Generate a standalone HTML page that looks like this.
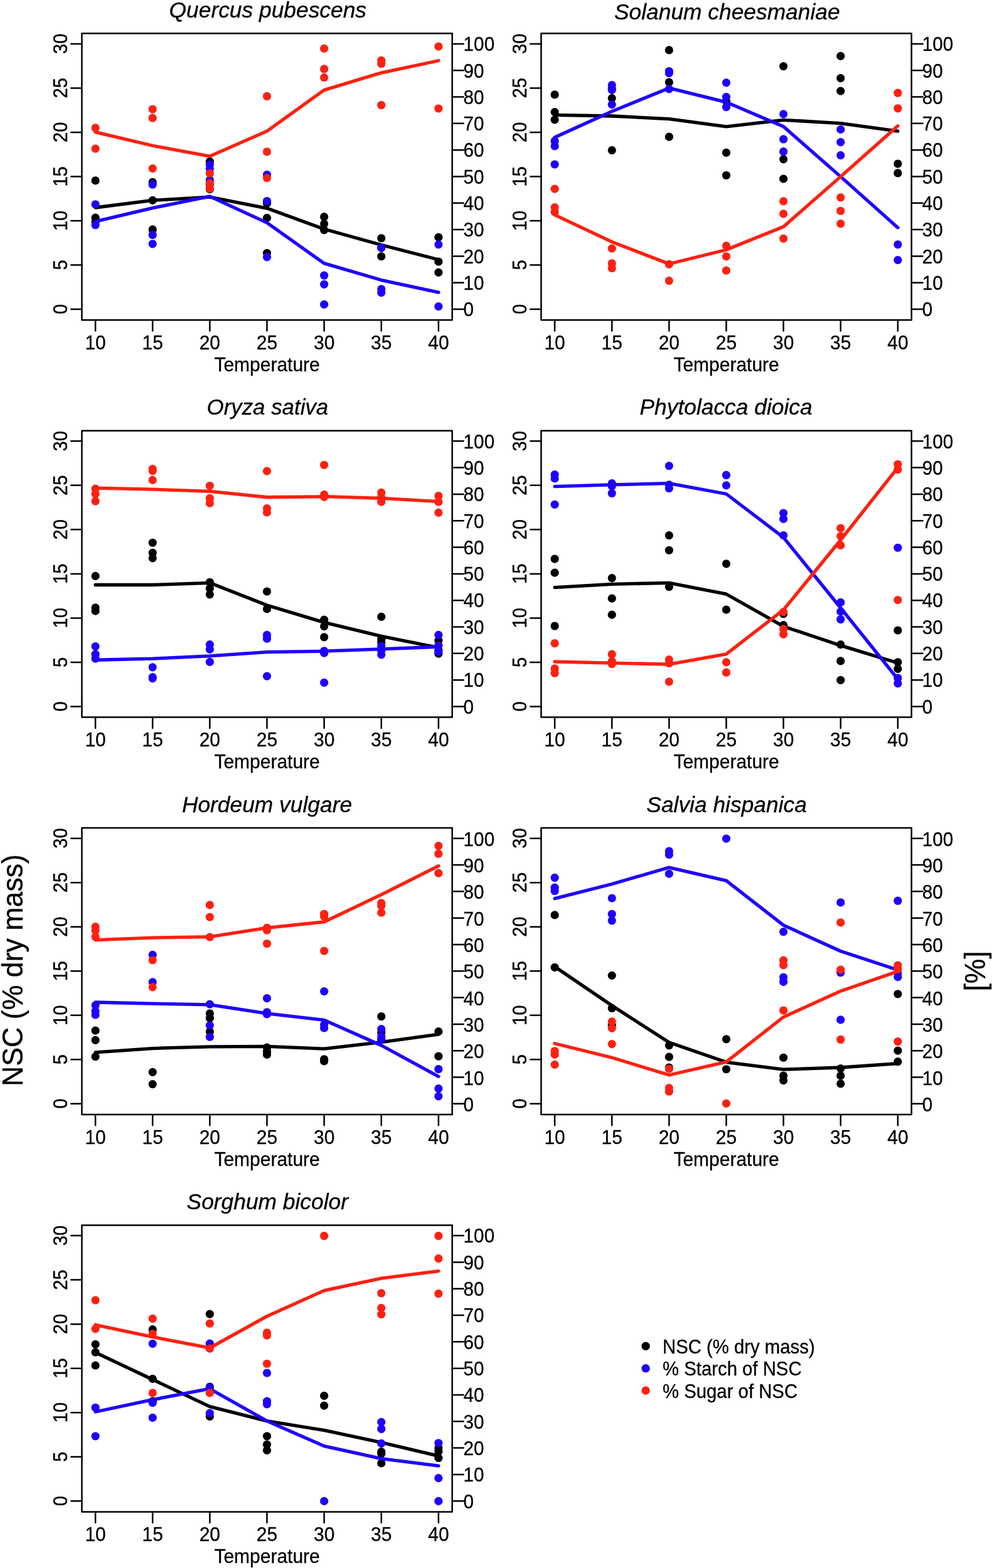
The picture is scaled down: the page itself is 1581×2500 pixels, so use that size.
<!DOCTYPE html>
<html lang="en"><head><meta charset="utf-8"><title>NSC, starch and sugar versus temperature</title>
<style>
html,body{margin:0;padding:0;background:#fff}
body{width:1581px;height:2500px;overflow:hidden}
svg{display:block;font-family:"Liberation Sans",sans-serif;fill:#000}
text{stroke:#000;stroke-width:0.3px;stroke-linejoin:round}
.r{stroke-width:0.4px}
.ttl{font-size:34px;font-style:italic;text-anchor:middle}
.tl{font-size:30px}
.m{text-anchor:middle}
.xl{font-size:30px;text-anchor:middle}
.big{font-size:46px;text-anchor:middle}
.lg{font-size:30px}
.bx{fill:none;stroke:#000;stroke-width:2.5;stroke-linejoin:round}
.tk{fill:none;stroke:#000;stroke-width:2.5;stroke-linecap:round}
.ln{fill:none;stroke-width:5.3;stroke-linecap:round;stroke-linejoin:round}
</style></head><body>
<svg width="1581" height="2500" viewBox="0 0 1581 2500" role="img" aria-label="NSC, starch and sugar fractions versus temperature for seven species">
<rect x="0" y="0" width="1581" height="2500" fill="#fff" stroke="none"/>
<g class="panel">
<text class="ttl" transform="translate(426.78 27.5) scale(1.04 1.045)">Quercus pubescens</text>
<g fill="#000">
<circle cx="152.1" cy="287.93" r="6.6"/>
<circle cx="152.1" cy="347.18" r="6.6"/>
<circle cx="152.1" cy="354.12" r="6.6"/>
<circle cx="243.23" cy="290.45" r="6.6"/>
<circle cx="243.23" cy="319.45" r="6.6"/>
<circle cx="243.23" cy="365.88" r="6.6"/>
<circle cx="334.36" cy="257.47" r="6.6"/>
<circle cx="334.36" cy="294.24" r="6.6"/>
<circle cx="334.36" cy="301.59" r="6.6"/>
<circle cx="425.49" cy="324.07" r="6.6"/>
<circle cx="425.49" cy="347.39" r="6.6"/>
<circle cx="425.49" cy="403.49" r="6.6"/>
<circle cx="516.62" cy="345.71" r="6.6"/>
<circle cx="516.62" cy="356.85" r="6.6"/>
<circle cx="516.62" cy="366.72" r="6.6"/>
<circle cx="607.75" cy="379.75" r="6.6"/>
<circle cx="607.75" cy="395.09" r="6.6"/>
<circle cx="607.75" cy="408.75" r="6.6"/>
<circle cx="698.88" cy="378.28" r="6.6"/>
<circle cx="698.88" cy="417.15" r="6.6"/>
<circle cx="698.88" cy="434.38" r="6.6"/>
</g>
<polyline class="ln" stroke="#000" points="152.1,331 243.23,319.45 334.36,314.2 425.49,332.06 516.62,365.25 607.75,390.47 698.88,414"/>
<g fill="#1e00ff">
<circle cx="152.1" cy="325.75" r="6.6"/>
<circle cx="152.1" cy="358.74" r="6.6"/>
<circle cx="243.23" cy="294.24" r="6.6"/>
<circle cx="243.23" cy="374.5" r="6.6"/>
<circle cx="243.23" cy="388.79" r="6.6"/>
<circle cx="334.36" cy="262.3" r="6.6"/>
<circle cx="334.36" cy="269.02" r="6.6"/>
<circle cx="334.36" cy="286.88" r="6.6"/>
<circle cx="425.49" cy="278.48" r="6.6"/>
<circle cx="425.49" cy="320.5" r="6.6"/>
<circle cx="425.49" cy="409.8" r="6.6"/>
<circle cx="516.62" cy="439.21" r="6.6"/>
<circle cx="516.62" cy="453.29" r="6.6"/>
<circle cx="516.62" cy="485.44" r="6.6"/>
<circle cx="607.75" cy="395.09" r="6.6"/>
<circle cx="607.75" cy="460.85" r="6.6"/>
<circle cx="607.75" cy="466.53" r="6.6"/>
<circle cx="698.88" cy="389.84" r="6.6"/>
<circle cx="698.88" cy="488.59" r="6.6"/>
</g>
<polyline class="ln" stroke="#1e00ff" points="152.1,353.07 243.23,331.63 334.36,313.15 425.49,355.17 516.62,419.88 607.75,446.57 698.88,466.11"/>
<g fill="#ff2010">
<circle cx="152.1" cy="203.89" r="6.6"/>
<circle cx="152.1" cy="237.08" r="6.6"/>
<circle cx="243.23" cy="174.05" r="6.6"/>
<circle cx="243.23" cy="188.13" r="6.6"/>
<circle cx="243.23" cy="268.6" r="6.6"/>
<circle cx="334.36" cy="276.38" r="6.6"/>
<circle cx="334.36" cy="292.13" r="6.6"/>
<circle cx="334.36" cy="300.54" r="6.6"/>
<circle cx="425.49" cy="153.46" r="6.6"/>
<circle cx="425.49" cy="241.92" r="6.6"/>
<circle cx="425.49" cy="283.73" r="6.6"/>
<circle cx="516.62" cy="77.4" r="6.6"/>
<circle cx="516.62" cy="109.97" r="6.6"/>
<circle cx="516.62" cy="123.62" r="6.6"/>
<circle cx="607.75" cy="96.31" r="6.6"/>
<circle cx="607.75" cy="101.56" r="6.6"/>
<circle cx="607.75" cy="167.54" r="6.6"/>
<circle cx="698.88" cy="74.04" r="6.6"/>
<circle cx="698.88" cy="173" r="6.6"/>
</g>
<polyline class="ln" stroke="#ff2010" points="152.1,210.61 243.23,232.25 334.36,249.06 425.49,209.14 516.62,143.59 607.75,116.06 698.88,96.73"/>
<rect class="bx" x="130.45" y="53.25" width="590.25" height="456.95"/>
<path class="tk" d="M152.1 510.2V527.55M243.23 510.2V527.55M334.36 510.2V527.55M425.49 510.2V527.55M516.62 510.2V527.55M607.75 510.2V527.55M698.88 510.2V527.55M130.45 493.05H113.3M130.45 422.53H113.3M130.45 352H113.3M130.45 281.48H113.3M130.45 210.95H113.3M130.45 140.43H113.3M130.45 69.9H113.3M720.7 493.05H738.65M720.7 450.74H738.65M720.7 408.42H738.65M720.7 366.11H738.65M720.7 323.79H738.65M720.7 281.48H738.65M720.7 239.16H738.65M720.7 196.85H738.65M720.7 154.53H738.65M720.7 112.22H738.65M720.7 69.9H738.65"/>
<text class="tl m" transform="translate(152.1 556.6) scale(1 1.03)">10</text>
<text class="tl m" transform="translate(243.23 556.6) scale(1 1.03)">15</text>
<text class="tl m" transform="translate(334.36 556.6) scale(1 1.03)">20</text>
<text class="tl m" transform="translate(425.49 556.6) scale(1 1.03)">25</text>
<text class="tl m" transform="translate(516.62 556.6) scale(1 1.03)">30</text>
<text class="tl m" transform="translate(607.75 556.6) scale(1 1.03)">35</text>
<text class="tl m" transform="translate(698.88 556.6) scale(1 1.03)">40</text>
<text class="tl m r" transform="translate(106.6 492.95) rotate(-90) scale(0.97 1.07)">0</text>
<text class="tl m r" transform="translate(106.6 422.43) rotate(-90) scale(0.97 1.07)">5</text>
<text class="tl m r" transform="translate(106.6 351.9) rotate(-90) scale(0.97 1.07)">10</text>
<text class="tl m r" transform="translate(106.6 281.38) rotate(-90) scale(0.97 1.07)">15</text>
<text class="tl m r" transform="translate(106.6 210.85) rotate(-90) scale(0.97 1.07)">20</text>
<text class="tl m r" transform="translate(106.6 140.33) rotate(-90) scale(0.97 1.07)">25</text>
<text class="tl m r" transform="translate(106.6 69.8) rotate(-90) scale(0.97 1.07)">30</text>
<text class="tl" transform="translate(738.6 504.35) scale(0.99 1.03)">0</text>
<text class="tl" transform="translate(738.6 462.04) scale(0.99 1.03)">10</text>
<text class="tl" transform="translate(738.6 419.72) scale(0.99 1.03)">20</text>
<text class="tl" transform="translate(738.6 377.41) scale(0.99 1.03)">30</text>
<text class="tl" transform="translate(738.6 335.09) scale(0.99 1.03)">40</text>
<text class="tl" transform="translate(738.6 292.78) scale(0.99 1.03)">50</text>
<text class="tl" transform="translate(738.6 250.46) scale(0.99 1.03)">60</text>
<text class="tl" transform="translate(738.6 208.15) scale(0.99 1.03)">70</text>
<text class="tl" transform="translate(738.6 165.83) scale(0.99 1.03)">80</text>
<text class="tl" transform="translate(738.6 123.52) scale(0.99 1.03)">90</text>
<text class="tl" transform="translate(738.6 81.2) scale(0.99 1.03)">100</text>
<text class="xl" transform="translate(425.58 592.1) scale(1 1.05)">Temperature</text>
</g>
<g class="panel">
<text class="ttl" transform="translate(1158.78 30.7) scale(1.04 1.045)">Solanum cheesmaniae</text>
<g fill="#000">
<circle cx="884.1" cy="150.94" r="6.6"/>
<circle cx="884.1" cy="178.67" r="6.6"/>
<circle cx="884.1" cy="190.86" r="6.6"/>
<circle cx="975.23" cy="140.85" r="6.6"/>
<circle cx="975.23" cy="156.61" r="6.6"/>
<circle cx="975.23" cy="239.61" r="6.6"/>
<circle cx="1066.36" cy="79.92" r="6.6"/>
<circle cx="1066.36" cy="130.98" r="6.6"/>
<circle cx="1066.36" cy="218.17" r="6.6"/>
<circle cx="1157.49" cy="161.44" r="6.6"/>
<circle cx="1157.49" cy="243.39" r="6.6"/>
<circle cx="1157.49" cy="279.53" r="6.6"/>
<circle cx="1248.62" cy="105.55" r="6.6"/>
<circle cx="1248.62" cy="253.89" r="6.6"/>
<circle cx="1248.62" cy="285.2" r="6.6"/>
<circle cx="1339.75" cy="89.38" r="6.6"/>
<circle cx="1339.75" cy="124.67" r="6.6"/>
<circle cx="1339.75" cy="145.06" r="6.6"/>
<circle cx="1430.88" cy="261.04" r="6.6"/>
<circle cx="1430.88" cy="275.96" r="6.6"/>
</g>
<polyline class="ln" stroke="#000" points="884.1,183.3 975.23,184.98 1066.36,189.6 1157.49,201.79 1248.62,191.28 1339.75,196.53 1430.88,209.14"/>
<g fill="#1e00ff">
<circle cx="884.1" cy="224.9" r="6.6"/>
<circle cx="884.1" cy="232.88" r="6.6"/>
<circle cx="884.1" cy="262.09" r="6.6"/>
<circle cx="975.23" cy="135.6" r="6.6"/>
<circle cx="975.23" cy="143.37" r="6.6"/>
<circle cx="975.23" cy="166.7" r="6.6"/>
<circle cx="1066.36" cy="113.54" r="6.6"/>
<circle cx="1066.36" cy="116.69" r="6.6"/>
<circle cx="1066.36" cy="141.9" r="6.6"/>
<circle cx="1157.49" cy="131.82" r="6.6"/>
<circle cx="1157.49" cy="154.51" r="6.6"/>
<circle cx="1157.49" cy="170.69" r="6.6"/>
<circle cx="1248.62" cy="181.83" r="6.6"/>
<circle cx="1248.62" cy="221.96" r="6.6"/>
<circle cx="1248.62" cy="241.71" r="6.6"/>
<circle cx="1339.75" cy="206.41" r="6.6"/>
<circle cx="1339.75" cy="226.58" r="6.6"/>
<circle cx="1339.75" cy="247.59" r="6.6"/>
<circle cx="1430.88" cy="389.84" r="6.6"/>
<circle cx="1430.88" cy="414.63" r="6.6"/>
</g>
<polyline class="ln" stroke="#1e00ff" points="884.1,219.02 975.23,177.62 1066.36,140.43 1157.49,162.92 1248.62,201.79 1339.75,281.63 1430.88,362.94"/>
<g fill="#ff2010">
<circle cx="884.1" cy="301.17" r="6.6"/>
<circle cx="884.1" cy="330.58" r="6.6"/>
<circle cx="884.1" cy="337.94" r="6.6"/>
<circle cx="975.23" cy="396.14" r="6.6"/>
<circle cx="975.23" cy="419.88" r="6.6"/>
<circle cx="975.23" cy="427.66" r="6.6"/>
<circle cx="1066.36" cy="421.35" r="6.6"/>
<circle cx="1066.36" cy="447.62" r="6.6"/>
<circle cx="1157.49" cy="391.94" r="6.6"/>
<circle cx="1157.49" cy="408.75" r="6.6"/>
<circle cx="1157.49" cy="431.23" r="6.6"/>
<circle cx="1248.62" cy="320.92" r="6.6"/>
<circle cx="1248.62" cy="340.88" r="6.6"/>
<circle cx="1248.62" cy="380.38" r="6.6"/>
<circle cx="1339.75" cy="314.83" r="6.6"/>
<circle cx="1339.75" cy="336.26" r="6.6"/>
<circle cx="1339.75" cy="356.64" r="6.6"/>
<circle cx="1430.88" cy="148.21" r="6.6"/>
<circle cx="1430.88" cy="172.79" r="6.6"/>
</g>
<polyline class="ln" stroke="#ff2010" points="884.1,342.56 975.23,385.63 1066.36,420.72 1157.49,398.24 1248.62,361.47 1339.75,281.63 1430.88,200.74"/>
<rect class="bx" x="862.45" y="53.25" width="590.25" height="456.95"/>
<path class="tk" d="M884.1 510.2V527.55M975.23 510.2V527.55M1066.36 510.2V527.55M1157.49 510.2V527.55M1248.62 510.2V527.55M1339.75 510.2V527.55M1430.88 510.2V527.55M862.45 493.05H845.3M862.45 422.53H845.3M862.45 352H845.3M862.45 281.48H845.3M862.45 210.95H845.3M862.45 140.43H845.3M862.45 69.9H845.3M1452.7 493.05H1470.65M1452.7 450.74H1470.65M1452.7 408.42H1470.65M1452.7 366.11H1470.65M1452.7 323.79H1470.65M1452.7 281.48H1470.65M1452.7 239.16H1470.65M1452.7 196.85H1470.65M1452.7 154.53H1470.65M1452.7 112.22H1470.65M1452.7 69.9H1470.65"/>
<text class="tl m" transform="translate(884.1 556.6) scale(1 1.03)">10</text>
<text class="tl m" transform="translate(975.23 556.6) scale(1 1.03)">15</text>
<text class="tl m" transform="translate(1066.36 556.6) scale(1 1.03)">20</text>
<text class="tl m" transform="translate(1157.49 556.6) scale(1 1.03)">25</text>
<text class="tl m" transform="translate(1248.62 556.6) scale(1 1.03)">30</text>
<text class="tl m" transform="translate(1339.75 556.6) scale(1 1.03)">35</text>
<text class="tl m" transform="translate(1430.88 556.6) scale(1 1.03)">40</text>
<text class="tl m r" transform="translate(838.6 492.95) rotate(-90) scale(0.97 1.07)">0</text>
<text class="tl m r" transform="translate(838.6 422.43) rotate(-90) scale(0.97 1.07)">5</text>
<text class="tl m r" transform="translate(838.6 351.9) rotate(-90) scale(0.97 1.07)">10</text>
<text class="tl m r" transform="translate(838.6 281.38) rotate(-90) scale(0.97 1.07)">15</text>
<text class="tl m r" transform="translate(838.6 210.85) rotate(-90) scale(0.97 1.07)">20</text>
<text class="tl m r" transform="translate(838.6 140.33) rotate(-90) scale(0.97 1.07)">25</text>
<text class="tl m r" transform="translate(838.6 69.8) rotate(-90) scale(0.97 1.07)">30</text>
<text class="tl" transform="translate(1469.8 504.35) scale(0.99 1.03)">0</text>
<text class="tl" transform="translate(1469.8 462.04) scale(0.99 1.03)">10</text>
<text class="tl" transform="translate(1469.8 419.72) scale(0.99 1.03)">20</text>
<text class="tl" transform="translate(1469.8 377.41) scale(0.99 1.03)">30</text>
<text class="tl" transform="translate(1469.8 335.09) scale(0.99 1.03)">40</text>
<text class="tl" transform="translate(1469.8 292.78) scale(0.99 1.03)">50</text>
<text class="tl" transform="translate(1469.8 250.46) scale(0.99 1.03)">60</text>
<text class="tl" transform="translate(1469.8 208.15) scale(0.99 1.03)">70</text>
<text class="tl" transform="translate(1469.8 165.83) scale(0.99 1.03)">80</text>
<text class="tl" transform="translate(1469.8 123.52) scale(0.99 1.03)">90</text>
<text class="tl" transform="translate(1469.8 81.2) scale(0.99 1.03)">100</text>
<text class="xl" transform="translate(1157.58 592.1) scale(1 1.05)">Temperature</text>
</g>
<g class="panel">
<text class="ttl" transform="translate(426.38 660.9) scale(1.0254 1.045)">Oryza sativa</text>
<g fill="#000">
<circle cx="152.1" cy="918.41" r="6.6"/>
<circle cx="152.1" cy="968.84" r="6.6"/>
<circle cx="152.1" cy="974.09" r="6.6"/>
<circle cx="243.23" cy="865.25" r="6.6"/>
<circle cx="243.23" cy="881.43" r="6.6"/>
<circle cx="243.23" cy="889.84" r="6.6"/>
<circle cx="334.36" cy="928.29" r="6.6"/>
<circle cx="334.36" cy="938.16" r="6.6"/>
<circle cx="334.36" cy="947.83" r="6.6"/>
<circle cx="425.49" cy="942.99" r="6.6"/>
<circle cx="425.49" cy="970.94" r="6.6"/>
<circle cx="516.62" cy="988.17" r="6.6"/>
<circle cx="516.62" cy="998.67" r="6.6"/>
<circle cx="516.62" cy="1015.9" r="6.6"/>
<circle cx="607.75" cy="983.33" r="6.6"/>
<circle cx="607.75" cy="1019.26" r="6.6"/>
<circle cx="607.75" cy="1023.89" r="6.6"/>
<circle cx="698.88" cy="1021.15" r="6.6"/>
<circle cx="698.88" cy="1036.49" r="6.6"/>
<circle cx="698.88" cy="1042.17" r="6.6"/>
</g>
<polyline class="ln" stroke="#000" points="152.1,932.49 243.23,932.49 334.36,929.34 425.49,965.06 516.62,992.37 607.75,1014.43 698.88,1032.71"/>
<g fill="#1e00ff">
<circle cx="152.1" cy="1030.61" r="6.6"/>
<circle cx="152.1" cy="1043.22" r="6.6"/>
<circle cx="152.1" cy="1050.15" r="6.6"/>
<circle cx="243.23" cy="1063.81" r="6.6"/>
<circle cx="243.23" cy="1079.57" r="6.6"/>
<circle cx="243.23" cy="1081.67" r="6.6"/>
<circle cx="334.36" cy="1027.67" r="6.6"/>
<circle cx="334.36" cy="1035.44" r="6.6"/>
<circle cx="334.36" cy="1055.4" r="6.6"/>
<circle cx="425.49" cy="1012.33" r="6.6"/>
<circle cx="425.49" cy="1018.21" r="6.6"/>
<circle cx="425.49" cy="1078.1" r="6.6"/>
<circle cx="516.62" cy="1037.96" r="6.6"/>
<circle cx="516.62" cy="1041.12" r="6.6"/>
<circle cx="516.62" cy="1088.39" r="6.6"/>
<circle cx="607.75" cy="1030.19" r="6.6"/>
<circle cx="607.75" cy="1037.54" r="6.6"/>
<circle cx="607.75" cy="1043.85" r="6.6"/>
<circle cx="698.88" cy="1012.33" r="6.6"/>
<circle cx="698.88" cy="1029.14" r="6.6"/>
<circle cx="698.88" cy="1039.01" r="6.6"/>
</g>
<polyline class="ln" stroke="#1e00ff" points="152.1,1052.25 243.23,1050.15 334.36,1045.95 425.49,1039.64 516.62,1038.17 607.75,1034.81 698.88,1031.24"/>
<g fill="#ff2010">
<circle cx="152.1" cy="779.11" r="6.6"/>
<circle cx="152.1" cy="787.51" r="6.6"/>
<circle cx="152.1" cy="799.07" r="6.6"/>
<circle cx="243.23" cy="747.59" r="6.6"/>
<circle cx="243.23" cy="750.74" r="6.6"/>
<circle cx="243.23" cy="765.45" r="6.6"/>
<circle cx="334.36" cy="774.48" r="6.6"/>
<circle cx="334.36" cy="794.44" r="6.6"/>
<circle cx="334.36" cy="802.22" r="6.6"/>
<circle cx="425.49" cy="751.16" r="6.6"/>
<circle cx="425.49" cy="810.62" r="6.6"/>
<circle cx="425.49" cy="816.93" r="6.6"/>
<circle cx="516.62" cy="741.29" r="6.6"/>
<circle cx="516.62" cy="788.56" r="6.6"/>
<circle cx="516.62" cy="792.34" r="6.6"/>
<circle cx="607.75" cy="785.41" r="6.6"/>
<circle cx="607.75" cy="792.76" r="6.6"/>
<circle cx="607.75" cy="800.12" r="6.6"/>
<circle cx="698.88" cy="790.66" r="6.6"/>
<circle cx="698.88" cy="800.12" r="6.6"/>
<circle cx="698.88" cy="817.35" r="6.6"/>
</g>
<polyline class="ln" stroke="#ff2010" points="152.1,778.06 243.23,780.16 334.36,783.31 425.49,792.76 516.62,791.71 607.75,794.44 698.88,799.7"/>
<rect class="bx" x="130.45" y="686.65" width="590.25" height="456.95"/>
<path class="tk" d="M152.1 1143.6V1160.95M243.23 1143.6V1160.95M334.36 1143.6V1160.95M425.49 1143.6V1160.95M516.62 1143.6V1160.95M607.75 1143.6V1160.95M698.88 1143.6V1160.95M130.45 1126.45H113.3M130.45 1055.92H113.3M130.45 985.4H113.3M130.45 914.88H113.3M130.45 844.35H113.3M130.45 773.83H113.3M130.45 703.3H113.3M720.7 1126.45H738.65M720.7 1084.13H738.65M720.7 1041.82H738.65M720.7 999.5H738.65M720.7 957.19H738.65M720.7 914.88H738.65M720.7 872.56H738.65M720.7 830.25H738.65M720.7 787.93H738.65M720.7 745.62H738.65M720.7 703.3H738.65"/>
<text class="tl m" transform="translate(152.1 1190) scale(1 1.03)">10</text>
<text class="tl m" transform="translate(243.23 1190) scale(1 1.03)">15</text>
<text class="tl m" transform="translate(334.36 1190) scale(1 1.03)">20</text>
<text class="tl m" transform="translate(425.49 1190) scale(1 1.03)">25</text>
<text class="tl m" transform="translate(516.62 1190) scale(1 1.03)">30</text>
<text class="tl m" transform="translate(607.75 1190) scale(1 1.03)">35</text>
<text class="tl m" transform="translate(698.88 1190) scale(1 1.03)">40</text>
<text class="tl m r" transform="translate(106.6 1126.35) rotate(-90) scale(0.97 1.07)">0</text>
<text class="tl m r" transform="translate(106.6 1055.83) rotate(-90) scale(0.97 1.07)">5</text>
<text class="tl m r" transform="translate(106.6 985.3) rotate(-90) scale(0.97 1.07)">10</text>
<text class="tl m r" transform="translate(106.6 914.77) rotate(-90) scale(0.97 1.07)">15</text>
<text class="tl m r" transform="translate(106.6 844.25) rotate(-90) scale(0.97 1.07)">20</text>
<text class="tl m r" transform="translate(106.6 773.73) rotate(-90) scale(0.97 1.07)">25</text>
<text class="tl m r" transform="translate(106.6 703.2) rotate(-90) scale(0.97 1.07)">30</text>
<text class="tl" transform="translate(738.6 1137.75) scale(0.99 1.03)">0</text>
<text class="tl" transform="translate(738.6 1095.43) scale(0.99 1.03)">10</text>
<text class="tl" transform="translate(738.6 1053.12) scale(0.99 1.03)">20</text>
<text class="tl" transform="translate(738.6 1010.8) scale(0.99 1.03)">30</text>
<text class="tl" transform="translate(738.6 968.49) scale(0.99 1.03)">40</text>
<text class="tl" transform="translate(738.6 926.17) scale(0.99 1.03)">50</text>
<text class="tl" transform="translate(738.6 883.86) scale(0.99 1.03)">60</text>
<text class="tl" transform="translate(738.6 841.54) scale(0.99 1.03)">70</text>
<text class="tl" transform="translate(738.6 799.23) scale(0.99 1.03)">80</text>
<text class="tl" transform="translate(738.6 756.91) scale(0.99 1.03)">90</text>
<text class="tl" transform="translate(738.6 714.6) scale(0.99 1.03)">100</text>
<text class="xl" transform="translate(425.58 1224.6) scale(1 1.05)">Temperature</text>
</g>
<g class="panel">
<text class="ttl" transform="translate(1157.08 660.9) scale(1.04 1.045)">Phytolacca dioica</text>
<g fill="#000">
<circle cx="884.1" cy="891.1" r="6.6"/>
<circle cx="884.1" cy="913.16" r="6.6"/>
<circle cx="884.1" cy="998.04" r="6.6"/>
<circle cx="975.23" cy="921.56" r="6.6"/>
<circle cx="975.23" cy="954.13" r="6.6"/>
<circle cx="975.23" cy="980.18" r="6.6"/>
<circle cx="1066.36" cy="853.7" r="6.6"/>
<circle cx="1066.36" cy="877.23" r="6.6"/>
<circle cx="1066.36" cy="935.64" r="6.6"/>
<circle cx="1157.49" cy="898.87" r="6.6"/>
<circle cx="1157.49" cy="971.99" r="6.6"/>
<circle cx="1248.62" cy="978.71" r="6.6"/>
<circle cx="1248.62" cy="996.57" r="6.6"/>
<circle cx="1339.75" cy="1027.67" r="6.6"/>
<circle cx="1339.75" cy="1053.93" r="6.6"/>
<circle cx="1339.75" cy="1084.4" r="6.6"/>
<circle cx="1430.88" cy="1004.98" r="6.6"/>
<circle cx="1430.88" cy="1055.82" r="6.6"/>
<circle cx="1430.88" cy="1066.33" r="6.6"/>
</g>
<polyline class="ln" stroke="#000" points="884.1,936.69 975.23,931.44 1066.36,929.34 1157.49,947.2 1248.62,998.67 1339.75,1029.14 1430.88,1057.08"/>
<g fill="#1e00ff">
<circle cx="884.1" cy="756.62" r="6.6"/>
<circle cx="884.1" cy="762.93" r="6.6"/>
<circle cx="884.1" cy="804.32" r="6.6"/>
<circle cx="975.23" cy="770.7" r="6.6"/>
<circle cx="975.23" cy="774.9" r="6.6"/>
<circle cx="975.23" cy="786.46" r="6.6"/>
<circle cx="1066.36" cy="742.76" r="6.6"/>
<circle cx="1066.36" cy="772.8" r="6.6"/>
<circle cx="1066.36" cy="778.69" r="6.6"/>
<circle cx="1157.49" cy="757.46" r="6.6"/>
<circle cx="1157.49" cy="773.85" r="6.6"/>
<circle cx="1248.62" cy="817.98" r="6.6"/>
<circle cx="1248.62" cy="827.43" r="6.6"/>
<circle cx="1248.62" cy="853.7" r="6.6"/>
<circle cx="1339.75" cy="960.43" r="6.6"/>
<circle cx="1339.75" cy="975.14" r="6.6"/>
<circle cx="1339.75" cy="987.54" r="6.6"/>
<circle cx="1430.88" cy="873.24" r="6.6"/>
<circle cx="1430.88" cy="1081.04" r="6.6"/>
<circle cx="1430.88" cy="1089.65" r="6.6"/>
</g>
<polyline class="ln" stroke="#1e00ff" points="884.1,775.53 975.23,772.8 1066.36,770.7 1157.49,787.51 1248.62,856.85 1339.75,969.26 1430.88,1082.72"/>
<g fill="#ff2010">
<circle cx="884.1" cy="1025.57" r="6.6"/>
<circle cx="884.1" cy="1065.91" r="6.6"/>
<circle cx="884.1" cy="1073.26" r="6.6"/>
<circle cx="975.23" cy="1043.22" r="6.6"/>
<circle cx="975.23" cy="1054.35" r="6.6"/>
<circle cx="975.23" cy="1058.55" r="6.6"/>
<circle cx="1066.36" cy="1051.62" r="6.6"/>
<circle cx="1066.36" cy="1057.5" r="6.6"/>
<circle cx="1066.36" cy="1086.92" r="6.6"/>
<circle cx="1157.49" cy="1055.82" r="6.6"/>
<circle cx="1157.49" cy="1072.21" r="6.6"/>
<circle cx="1248.62" cy="975.56" r="6.6"/>
<circle cx="1248.62" cy="1002.88" r="6.6"/>
<circle cx="1248.62" cy="1011.28" r="6.6"/>
<circle cx="1339.75" cy="842.14" r="6.6"/>
<circle cx="1339.75" cy="854.75" r="6.6"/>
<circle cx="1339.75" cy="869.45" r="6.6"/>
<circle cx="1430.88" cy="740.24" r="6.6"/>
<circle cx="1430.88" cy="748.64" r="6.6"/>
<circle cx="1430.88" cy="956.65" r="6.6"/>
</g>
<polyline class="ln" stroke="#ff2010" points="884.1,1054.98 975.23,1057.08 1066.36,1059.19 1157.49,1042.8 1248.62,972.41 1339.75,861.05 1430.88,745.49"/>
<rect class="bx" x="862.45" y="686.65" width="590.25" height="456.95"/>
<path class="tk" d="M884.1 1143.6V1160.95M975.23 1143.6V1160.95M1066.36 1143.6V1160.95M1157.49 1143.6V1160.95M1248.62 1143.6V1160.95M1339.75 1143.6V1160.95M1430.88 1143.6V1160.95M862.45 1126.45H845.3M862.45 1055.92H845.3M862.45 985.4H845.3M862.45 914.88H845.3M862.45 844.35H845.3M862.45 773.83H845.3M862.45 703.3H845.3M1452.7 1126.45H1470.65M1452.7 1084.13H1470.65M1452.7 1041.82H1470.65M1452.7 999.5H1470.65M1452.7 957.19H1470.65M1452.7 914.88H1470.65M1452.7 872.56H1470.65M1452.7 830.25H1470.65M1452.7 787.93H1470.65M1452.7 745.62H1470.65M1452.7 703.3H1470.65"/>
<text class="tl m" transform="translate(884.1 1190) scale(1 1.03)">10</text>
<text class="tl m" transform="translate(975.23 1190) scale(1 1.03)">15</text>
<text class="tl m" transform="translate(1066.36 1190) scale(1 1.03)">20</text>
<text class="tl m" transform="translate(1157.49 1190) scale(1 1.03)">25</text>
<text class="tl m" transform="translate(1248.62 1190) scale(1 1.03)">30</text>
<text class="tl m" transform="translate(1339.75 1190) scale(1 1.03)">35</text>
<text class="tl m" transform="translate(1430.88 1190) scale(1 1.03)">40</text>
<text class="tl m r" transform="translate(838.6 1126.35) rotate(-90) scale(0.97 1.07)">0</text>
<text class="tl m r" transform="translate(838.6 1055.83) rotate(-90) scale(0.97 1.07)">5</text>
<text class="tl m r" transform="translate(838.6 985.3) rotate(-90) scale(0.97 1.07)">10</text>
<text class="tl m r" transform="translate(838.6 914.77) rotate(-90) scale(0.97 1.07)">15</text>
<text class="tl m r" transform="translate(838.6 844.25) rotate(-90) scale(0.97 1.07)">20</text>
<text class="tl m r" transform="translate(838.6 773.73) rotate(-90) scale(0.97 1.07)">25</text>
<text class="tl m r" transform="translate(838.6 703.2) rotate(-90) scale(0.97 1.07)">30</text>
<text class="tl" transform="translate(1469.8 1137.75) scale(0.99 1.03)">0</text>
<text class="tl" transform="translate(1469.8 1095.43) scale(0.99 1.03)">10</text>
<text class="tl" transform="translate(1469.8 1053.12) scale(0.99 1.03)">20</text>
<text class="tl" transform="translate(1469.8 1010.8) scale(0.99 1.03)">30</text>
<text class="tl" transform="translate(1469.8 968.49) scale(0.99 1.03)">40</text>
<text class="tl" transform="translate(1469.8 926.17) scale(0.99 1.03)">50</text>
<text class="tl" transform="translate(1469.8 883.86) scale(0.99 1.03)">60</text>
<text class="tl" transform="translate(1469.8 841.54) scale(0.99 1.03)">70</text>
<text class="tl" transform="translate(1469.8 799.23) scale(0.99 1.03)">80</text>
<text class="tl" transform="translate(1469.8 756.91) scale(0.99 1.03)">90</text>
<text class="tl" transform="translate(1469.8 714.6) scale(0.99 1.03)">100</text>
<text class="xl" transform="translate(1157.58 1224.6) scale(1 1.05)">Temperature</text>
</g>
<g class="panel">
<text class="ttl" transform="translate(425.48 1294.9) scale(1.04 1.045)">Hordeum vulgare</text>
<g fill="#000">
<circle cx="152.1" cy="1643.18" r="6.6"/>
<circle cx="152.1" cy="1658.31" r="6.6"/>
<circle cx="152.1" cy="1684.57" r="6.6"/>
<circle cx="243.23" cy="1709.36" r="6.6"/>
<circle cx="243.23" cy="1728.69" r="6.6"/>
<circle cx="334.36" cy="1615.86" r="6.6"/>
<circle cx="334.36" cy="1623.22" r="6.6"/>
<circle cx="334.36" cy="1644.86" r="6.6"/>
<circle cx="425.49" cy="1670.07" r="6.6"/>
<circle cx="425.49" cy="1676.38" r="6.6"/>
<circle cx="425.49" cy="1681.42" r="6.6"/>
<circle cx="516.62" cy="1688.77" r="6.6"/>
<circle cx="516.62" cy="1691.92" r="6.6"/>
<circle cx="607.75" cy="1620.7" r="6.6"/>
<circle cx="607.75" cy="1646.33" r="6.6"/>
<circle cx="607.75" cy="1656.84" r="6.6"/>
<circle cx="698.88" cy="1644.65" r="6.6"/>
<circle cx="698.88" cy="1684.15" r="6.6"/>
</g>
<polyline class="ln" stroke="#000" points="152.1,1677.85 243.23,1671.54 334.36,1668.81 425.49,1668.39 516.62,1672.17 607.75,1661.67 698.88,1649.06"/>
<g fill="#1e00ff">
<circle cx="152.1" cy="1602.84" r="6.6"/>
<circle cx="152.1" cy="1612.29" r="6.6"/>
<circle cx="152.1" cy="1617.97" r="6.6"/>
<circle cx="243.23" cy="1522.36" r="6.6"/>
<circle cx="243.23" cy="1565.86" r="6.6"/>
<circle cx="334.36" cy="1601.16" r="6.6"/>
<circle cx="334.36" cy="1634.77" r="6.6"/>
<circle cx="334.36" cy="1653.26" r="6.6"/>
<circle cx="425.49" cy="1591.7" r="6.6"/>
<circle cx="425.49" cy="1613.76" r="6.6"/>
<circle cx="425.49" cy="1616.91" r="6.6"/>
<circle cx="516.62" cy="1580.57" r="6.6"/>
<circle cx="516.62" cy="1633.72" r="6.6"/>
<circle cx="516.62" cy="1638.98" r="6.6"/>
<circle cx="607.75" cy="1640.66" r="6.6"/>
<circle cx="607.75" cy="1652.63" r="6.6"/>
<circle cx="607.75" cy="1657.47" r="6.6"/>
<circle cx="698.88" cy="1704.53" r="6.6"/>
<circle cx="698.88" cy="1735.63" r="6.6"/>
<circle cx="698.88" cy="1747.81" r="6.6"/>
</g>
<polyline class="ln" stroke="#1e00ff" points="152.1,1598 243.23,1600.11 334.36,1601.79 425.49,1615.86 516.62,1626.37 607.75,1666.71 698.88,1716.3"/>
<g fill="#ff2010">
<circle cx="152.1" cy="1477.61" r="6.6"/>
<circle cx="152.1" cy="1483.49" r="6.6"/>
<circle cx="152.1" cy="1493.58" r="6.6"/>
<circle cx="243.23" cy="1530.77" r="6.6"/>
<circle cx="243.23" cy="1573.84" r="6.6"/>
<circle cx="334.36" cy="1442.94" r="6.6"/>
<circle cx="334.36" cy="1462.06" r="6.6"/>
<circle cx="334.36" cy="1494" r="6.6"/>
<circle cx="425.49" cy="1479.29" r="6.6"/>
<circle cx="425.49" cy="1483.07" r="6.6"/>
<circle cx="425.49" cy="1504.5" r="6.6"/>
<circle cx="516.62" cy="1457.23" r="6.6"/>
<circle cx="516.62" cy="1461.43" r="6.6"/>
<circle cx="516.62" cy="1516.06" r="6.6"/>
<circle cx="607.75" cy="1439.79" r="6.6"/>
<circle cx="607.75" cy="1443.99" r="6.6"/>
<circle cx="607.75" cy="1455.13" r="6.6"/>
<circle cx="698.88" cy="1348.6" r="6.6"/>
<circle cx="698.88" cy="1361.21" r="6.6"/>
<circle cx="698.88" cy="1392.1" r="6.6"/>
</g>
<polyline class="ln" stroke="#ff2010" points="152.1,1498.62 243.23,1495.05 334.36,1493.58 425.49,1479.29 516.62,1469.84 607.75,1426.34 698.88,1380.54"/>
<rect class="bx" x="130.45" y="1320.05" width="590.25" height="456.95"/>
<path class="tk" d="M152.1 1777V1794.35M243.23 1777V1794.35M334.36 1777V1794.35M425.49 1777V1794.35M516.62 1777V1794.35M607.75 1777V1794.35M698.88 1777V1794.35M130.45 1759.85H113.3M130.45 1689.33H113.3M130.45 1618.8H113.3M130.45 1548.28H113.3M130.45 1477.75H113.3M130.45 1407.22H113.3M130.45 1336.7H113.3M720.7 1759.85H738.65M720.7 1717.53H738.65M720.7 1675.22H738.65M720.7 1632.9H738.65M720.7 1590.59H738.65M720.7 1548.28H738.65M720.7 1505.96H738.65M720.7 1463.64H738.65M720.7 1421.33H738.65M720.7 1379.01H738.65M720.7 1336.7H738.65"/>
<text class="tl m" transform="translate(152.1 1824.4) scale(1 1.03)">10</text>
<text class="tl m" transform="translate(243.23 1824.4) scale(1 1.03)">15</text>
<text class="tl m" transform="translate(334.36 1824.4) scale(1 1.03)">20</text>
<text class="tl m" transform="translate(425.49 1824.4) scale(1 1.03)">25</text>
<text class="tl m" transform="translate(516.62 1824.4) scale(1 1.03)">30</text>
<text class="tl m" transform="translate(607.75 1824.4) scale(1 1.03)">35</text>
<text class="tl m" transform="translate(698.88 1824.4) scale(1 1.03)">40</text>
<text class="tl m r" transform="translate(106.6 1759.75) rotate(-90) scale(0.97 1.07)">0</text>
<text class="tl m r" transform="translate(106.6 1689.23) rotate(-90) scale(0.97 1.07)">5</text>
<text class="tl m r" transform="translate(106.6 1618.7) rotate(-90) scale(0.97 1.07)">10</text>
<text class="tl m r" transform="translate(106.6 1548.18) rotate(-90) scale(0.97 1.07)">15</text>
<text class="tl m r" transform="translate(106.6 1477.65) rotate(-90) scale(0.97 1.07)">20</text>
<text class="tl m r" transform="translate(106.6 1407.12) rotate(-90) scale(0.97 1.07)">25</text>
<text class="tl m r" transform="translate(106.6 1336.6) rotate(-90) scale(0.97 1.07)">30</text>
<text class="tl" transform="translate(738.6 1771.95) scale(0.99 1.03)">0</text>
<text class="tl" transform="translate(738.6 1729.63) scale(0.99 1.03)">10</text>
<text class="tl" transform="translate(738.6 1687.32) scale(0.99 1.03)">20</text>
<text class="tl" transform="translate(738.6 1645) scale(0.99 1.03)">30</text>
<text class="tl" transform="translate(738.6 1602.69) scale(0.99 1.03)">40</text>
<text class="tl" transform="translate(738.6 1560.38) scale(0.99 1.03)">50</text>
<text class="tl" transform="translate(738.6 1518.06) scale(0.99 1.03)">60</text>
<text class="tl" transform="translate(738.6 1475.74) scale(0.99 1.03)">70</text>
<text class="tl" transform="translate(738.6 1433.43) scale(0.99 1.03)">80</text>
<text class="tl" transform="translate(738.6 1391.11) scale(0.99 1.03)">90</text>
<text class="tl" transform="translate(738.6 1348.8) scale(0.99 1.03)">100</text>
<text class="xl" transform="translate(425.58 1858.9) scale(1 1.05)">Temperature</text>
</g>
<g class="panel">
<text class="ttl" transform="translate(1158.08 1294.9) scale(1.04 1.045)">Salvia hispanica</text>
<g fill="#000">
<circle cx="884.1" cy="1458.91" r="6.6"/>
<circle cx="884.1" cy="1542.33" r="6.6"/>
<circle cx="975.23" cy="1555.35" r="6.6"/>
<circle cx="975.23" cy="1607.46" r="6.6"/>
<circle cx="975.23" cy="1634.35" r="6.6"/>
<circle cx="1066.36" cy="1666.71" r="6.6"/>
<circle cx="1066.36" cy="1685.2" r="6.6"/>
<circle cx="1066.36" cy="1702.01" r="6.6"/>
<circle cx="1157.49" cy="1656.84" r="6.6"/>
<circle cx="1157.49" cy="1704.74" r="6.6"/>
<circle cx="1248.62" cy="1686.25" r="6.6"/>
<circle cx="1248.62" cy="1715.04" r="6.6"/>
<circle cx="1248.62" cy="1722.6" r="6.6"/>
<circle cx="1339.75" cy="1703.69" r="6.6"/>
<circle cx="1339.75" cy="1715.04" r="6.6"/>
<circle cx="1339.75" cy="1727.85" r="6.6"/>
<circle cx="1430.88" cy="1584.77" r="6.6"/>
<circle cx="1430.88" cy="1675.12" r="6.6"/>
<circle cx="1430.88" cy="1692.55" r="6.6"/>
</g>
<polyline class="ln" stroke="#000" points="884.1,1541.27 975.23,1603.26 1066.36,1662.09 1157.49,1693.61 1248.62,1705.16 1339.75,1702.01 1430.88,1695.71"/>
<g fill="#1e00ff">
<circle cx="884.1" cy="1399.45" r="6.6"/>
<circle cx="884.1" cy="1415.21" r="6.6"/>
<circle cx="884.1" cy="1420.46" r="6.6"/>
<circle cx="975.23" cy="1432.02" r="6.6"/>
<circle cx="975.23" cy="1457.23" r="6.6"/>
<circle cx="975.23" cy="1467.74" r="6.6"/>
<circle cx="1066.36" cy="1357.01" r="6.6"/>
<circle cx="1066.36" cy="1362.68" r="6.6"/>
<circle cx="1066.36" cy="1393.15" r="6.6"/>
<circle cx="1157.49" cy="1337.05" r="6.6"/>
<circle cx="1248.62" cy="1485.59" r="6.6"/>
<circle cx="1248.62" cy="1558.08" r="6.6"/>
<circle cx="1248.62" cy="1565.44" r="6.6"/>
<circle cx="1339.75" cy="1438.95" r="6.6"/>
<circle cx="1339.75" cy="1550.73" r="6.6"/>
<circle cx="1339.75" cy="1625.95" r="6.6"/>
<circle cx="1430.88" cy="1436.22" r="6.6"/>
<circle cx="1430.88" cy="1551.78" r="6.6"/>
<circle cx="1430.88" cy="1557.66" r="6.6"/>
</g>
<polyline class="ln" stroke="#1e00ff" points="884.1,1432.65 975.23,1409.53 1066.36,1383.06 1157.49,1404.07 1248.62,1475.09 1339.75,1516.48 1430.88,1546.53"/>
<g fill="#ff2010">
<circle cx="884.1" cy="1675.75" r="6.6"/>
<circle cx="884.1" cy="1681.42" r="6.6"/>
<circle cx="884.1" cy="1697.39" r="6.6"/>
<circle cx="975.23" cy="1628.89" r="6.6"/>
<circle cx="975.23" cy="1639.4" r="6.6"/>
<circle cx="975.23" cy="1664.61" r="6.6"/>
<circle cx="1066.36" cy="1704.11" r="6.6"/>
<circle cx="1066.36" cy="1734.58" r="6.6"/>
<circle cx="1066.36" cy="1740.25" r="6.6"/>
<circle cx="1157.49" cy="1759.37" r="6.6"/>
<circle cx="1248.62" cy="1531.19" r="6.6"/>
<circle cx="1248.62" cy="1538.75" r="6.6"/>
<circle cx="1248.62" cy="1611.03" r="6.6"/>
<circle cx="1339.75" cy="1470.89" r="6.6"/>
<circle cx="1339.75" cy="1546.11" r="6.6"/>
<circle cx="1339.75" cy="1657.47" r="6.6"/>
<circle cx="1430.88" cy="1539.17" r="6.6"/>
<circle cx="1430.88" cy="1545.48" r="6.6"/>
<circle cx="1430.88" cy="1660.62" r="6.6"/>
</g>
<polyline class="ln" stroke="#ff2010" points="884.1,1663.77 975.23,1686.25 1066.36,1713.99 1157.49,1693.19 1248.62,1621.54 1339.75,1580.15 1430.88,1548.63"/>
<rect class="bx" x="862.45" y="1320.05" width="590.25" height="456.95"/>
<path class="tk" d="M884.1 1777V1794.35M975.23 1777V1794.35M1066.36 1777V1794.35M1157.49 1777V1794.35M1248.62 1777V1794.35M1339.75 1777V1794.35M1430.88 1777V1794.35M862.45 1759.85H845.3M862.45 1689.33H845.3M862.45 1618.8H845.3M862.45 1548.28H845.3M862.45 1477.75H845.3M862.45 1407.22H845.3M862.45 1336.7H845.3M1452.7 1759.85H1470.65M1452.7 1717.53H1470.65M1452.7 1675.22H1470.65M1452.7 1632.9H1470.65M1452.7 1590.59H1470.65M1452.7 1548.28H1470.65M1452.7 1505.96H1470.65M1452.7 1463.64H1470.65M1452.7 1421.33H1470.65M1452.7 1379.01H1470.65M1452.7 1336.7H1470.65"/>
<text class="tl m" transform="translate(884.1 1824.4) scale(1 1.03)">10</text>
<text class="tl m" transform="translate(975.23 1824.4) scale(1 1.03)">15</text>
<text class="tl m" transform="translate(1066.36 1824.4) scale(1 1.03)">20</text>
<text class="tl m" transform="translate(1157.49 1824.4) scale(1 1.03)">25</text>
<text class="tl m" transform="translate(1248.62 1824.4) scale(1 1.03)">30</text>
<text class="tl m" transform="translate(1339.75 1824.4) scale(1 1.03)">35</text>
<text class="tl m" transform="translate(1430.88 1824.4) scale(1 1.03)">40</text>
<text class="tl m r" transform="translate(838.6 1759.75) rotate(-90) scale(0.97 1.07)">0</text>
<text class="tl m r" transform="translate(838.6 1689.23) rotate(-90) scale(0.97 1.07)">5</text>
<text class="tl m r" transform="translate(838.6 1618.7) rotate(-90) scale(0.97 1.07)">10</text>
<text class="tl m r" transform="translate(838.6 1548.18) rotate(-90) scale(0.97 1.07)">15</text>
<text class="tl m r" transform="translate(838.6 1477.65) rotate(-90) scale(0.97 1.07)">20</text>
<text class="tl m r" transform="translate(838.6 1407.12) rotate(-90) scale(0.97 1.07)">25</text>
<text class="tl m r" transform="translate(838.6 1336.6) rotate(-90) scale(0.97 1.07)">30</text>
<text class="tl" transform="translate(1469.8 1771.95) scale(0.99 1.03)">0</text>
<text class="tl" transform="translate(1469.8 1729.63) scale(0.99 1.03)">10</text>
<text class="tl" transform="translate(1469.8 1687.32) scale(0.99 1.03)">20</text>
<text class="tl" transform="translate(1469.8 1645) scale(0.99 1.03)">30</text>
<text class="tl" transform="translate(1469.8 1602.69) scale(0.99 1.03)">40</text>
<text class="tl" transform="translate(1469.8 1560.38) scale(0.99 1.03)">50</text>
<text class="tl" transform="translate(1469.8 1518.06) scale(0.99 1.03)">60</text>
<text class="tl" transform="translate(1469.8 1475.74) scale(0.99 1.03)">70</text>
<text class="tl" transform="translate(1469.8 1433.43) scale(0.99 1.03)">80</text>
<text class="tl" transform="translate(1469.8 1391.11) scale(0.99 1.03)">90</text>
<text class="tl" transform="translate(1469.8 1348.8) scale(0.99 1.03)">100</text>
<text class="xl" transform="translate(1157.58 1858.9) scale(1 1.05)">Temperature</text>
</g>
<g class="panel">
<text class="ttl" transform="translate(426.28 1928.1) scale(1.04 1.045)">Sorghum bicolor</text>
<g fill="#000">
<circle cx="152.1" cy="2143.39" r="6.6"/>
<circle cx="152.1" cy="2155.99" r="6.6"/>
<circle cx="152.1" cy="2177.01" r="6.6"/>
<circle cx="243.23" cy="2119.65" r="6.6"/>
<circle cx="243.23" cy="2198.44" r="6.6"/>
<circle cx="243.23" cy="2234.16" r="6.6"/>
<circle cx="334.36" cy="2095.06" r="6.6"/>
<circle cx="334.36" cy="2211.04" r="6.6"/>
<circle cx="334.36" cy="2258.32" r="6.6"/>
<circle cx="425.49" cy="2289.84" r="6.6"/>
<circle cx="425.49" cy="2303.07" r="6.6"/>
<circle cx="425.49" cy="2312.32" r="6.6"/>
<circle cx="516.62" cy="2225.33" r="6.6"/>
<circle cx="516.62" cy="2241.09" r="6.6"/>
<circle cx="607.75" cy="2314.63" r="6.6"/>
<circle cx="607.75" cy="2317.57" r="6.6"/>
<circle cx="607.75" cy="2332.91" r="6.6"/>
<circle cx="698.88" cy="2308.75" r="6.6"/>
<circle cx="698.88" cy="2314" r="6.6"/>
<circle cx="698.88" cy="2324.5" r="6.6"/>
</g>
<polyline class="ln" stroke="#000" points="152.1,2156.41 243.23,2199.49 334.36,2242.56 425.49,2265.67 516.62,2280.38 607.75,2299.92 698.88,2321.35"/>
<g fill="#1e00ff">
<circle cx="152.1" cy="2244.24" r="6.6"/>
<circle cx="152.1" cy="2289.84" r="6.6"/>
<circle cx="243.23" cy="2142.34" r="6.6"/>
<circle cx="243.23" cy="2236.68" r="6.6"/>
<circle cx="243.23" cy="2260.42" r="6.6"/>
<circle cx="334.36" cy="2142.13" r="6.6"/>
<circle cx="334.36" cy="2212.09" r="6.6"/>
<circle cx="334.36" cy="2253.07" r="6.6"/>
<circle cx="425.49" cy="2188.98" r="6.6"/>
<circle cx="425.49" cy="2234.16" r="6.6"/>
<circle cx="425.49" cy="2238.78" r="6.6"/>
<circle cx="516.62" cy="2393.42" r="6.6"/>
<circle cx="607.75" cy="2267.35" r="6.6"/>
<circle cx="607.75" cy="2278.28" r="6.6"/>
<circle cx="607.75" cy="2301.39" r="6.6"/>
<circle cx="698.88" cy="2300.76" r="6.6"/>
<circle cx="698.88" cy="2356.65" r="6.6"/>
<circle cx="698.88" cy="2393.42" r="6.6"/>
</g>
<polyline class="ln" stroke="#1e00ff" points="152.1,2250.97 243.23,2231.63 334.36,2214.2 425.49,2265.67 516.62,2305.59 607.75,2325.55 698.88,2337.11"/>
<g fill="#ff2010">
<circle cx="152.1" cy="2073" r="6.6"/>
<circle cx="152.1" cy="2118.59" r="6.6"/>
<circle cx="243.23" cy="2102.42" r="6.6"/>
<circle cx="243.23" cy="2126.58" r="6.6"/>
<circle cx="243.23" cy="2220.92" r="6.6"/>
<circle cx="334.36" cy="2110.19" r="6.6"/>
<circle cx="334.36" cy="2150.11" r="6.6"/>
<circle cx="334.36" cy="2220.92" r="6.6"/>
<circle cx="425.49" cy="2124.9" r="6.6"/>
<circle cx="425.49" cy="2129.1" r="6.6"/>
<circle cx="425.49" cy="2174.27" r="6.6"/>
<circle cx="516.62" cy="1970.47" r="6.6"/>
<circle cx="607.75" cy="2061.86" r="6.6"/>
<circle cx="607.75" cy="2085.4" r="6.6"/>
<circle cx="607.75" cy="2095.48" r="6.6"/>
<circle cx="698.88" cy="1970.47" r="6.6"/>
<circle cx="698.88" cy="2006.61" r="6.6"/>
<circle cx="698.88" cy="2062.5" r="6.6"/>
</g>
<polyline class="ln" stroke="#ff2010" points="152.1,2112.29 243.23,2131.62 334.36,2149.06 425.49,2098.63 516.62,2057.66 607.75,2038.12 698.88,2026.57"/>
<rect class="bx" x="130.45" y="1953.45" width="590.25" height="456.95"/>
<path class="tk" d="M152.1 2410.4V2427.75M243.23 2410.4V2427.75M334.36 2410.4V2427.75M425.49 2410.4V2427.75M516.62 2410.4V2427.75M607.75 2410.4V2427.75M698.88 2410.4V2427.75M130.45 2393.25H113.3M130.45 2322.72H113.3M130.45 2252.2H113.3M130.45 2181.67H113.3M130.45 2111.15H113.3M130.45 2040.62H113.3M130.45 1970.1H113.3M720.7 2393.25H738.65M720.7 2350.93H738.65M720.7 2308.62H738.65M720.7 2266.3H738.65M720.7 2223.99H738.65M720.7 2181.67H738.65M720.7 2139.36H738.65M720.7 2097.05H738.65M720.7 2054.73H738.65M720.7 2012.41H738.65M720.7 1970.1H738.65"/>
<text class="tl m" transform="translate(152.1 2456.8) scale(1 1.03)">10</text>
<text class="tl m" transform="translate(243.23 2456.8) scale(1 1.03)">15</text>
<text class="tl m" transform="translate(334.36 2456.8) scale(1 1.03)">20</text>
<text class="tl m" transform="translate(425.49 2456.8) scale(1 1.03)">25</text>
<text class="tl m" transform="translate(516.62 2456.8) scale(1 1.03)">30</text>
<text class="tl m" transform="translate(607.75 2456.8) scale(1 1.03)">35</text>
<text class="tl m" transform="translate(698.88 2456.8) scale(1 1.03)">40</text>
<text class="tl m r" transform="translate(106.6 2393.15) rotate(-90) scale(0.97 1.07)">0</text>
<text class="tl m r" transform="translate(106.6 2322.62) rotate(-90) scale(0.97 1.07)">5</text>
<text class="tl m r" transform="translate(106.6 2252.1) rotate(-90) scale(0.97 1.07)">10</text>
<text class="tl m r" transform="translate(106.6 2181.57) rotate(-90) scale(0.97 1.07)">15</text>
<text class="tl m r" transform="translate(106.6 2111.05) rotate(-90) scale(0.97 1.07)">20</text>
<text class="tl m r" transform="translate(106.6 2040.53) rotate(-90) scale(0.97 1.07)">25</text>
<text class="tl m r" transform="translate(106.6 1970) rotate(-90) scale(0.97 1.07)">30</text>
<text class="tl" transform="translate(738.6 2404.55) scale(0.99 1.03)">0</text>
<text class="tl" transform="translate(738.6 2362.24) scale(0.99 1.03)">10</text>
<text class="tl" transform="translate(738.6 2319.92) scale(0.99 1.03)">20</text>
<text class="tl" transform="translate(738.6 2277.61) scale(0.99 1.03)">30</text>
<text class="tl" transform="translate(738.6 2235.29) scale(0.99 1.03)">40</text>
<text class="tl" transform="translate(738.6 2192.97) scale(0.99 1.03)">50</text>
<text class="tl" transform="translate(738.6 2150.66) scale(0.99 1.03)">60</text>
<text class="tl" transform="translate(738.6 2108.35) scale(0.99 1.03)">70</text>
<text class="tl" transform="translate(738.6 2066.03) scale(0.99 1.03)">80</text>
<text class="tl" transform="translate(738.6 2023.71) scale(0.99 1.03)">90</text>
<text class="tl" transform="translate(738.6 1981.4) scale(0.99 1.03)">100</text>
<text class="xl" transform="translate(425.58 2492.3) scale(1 1.05)">Temperature</text>
</g>
<text class="big r" transform="translate(35.6 1547) rotate(-90) scale(0.972 1.01)">NSC (% dry mass)</text>
<text class="big r" transform="translate(1569.8 1548.4) rotate(-90) scale(0.965 1)">[%]</text>
<circle cx="1029.1" cy="2146.2" r="6.7" fill="#000"/>
<text class="lg" transform="translate(1056 2157.9) scale(0.9775 1.04)">NSC (% dry mass)</text>
<circle cx="1029.1" cy="2181.65" r="6.7" fill="#1e00ff"/>
<text class="lg" transform="translate(1056 2193.35) scale(0.9775 1.04)">% Starch of NSC</text>
<circle cx="1029.1" cy="2217.1" r="6.7" fill="#ff2010"/>
<text class="lg" transform="translate(1056 2228.8) scale(0.9775 1.04)">% Sugar of NSC</text>
</svg></body></html>
